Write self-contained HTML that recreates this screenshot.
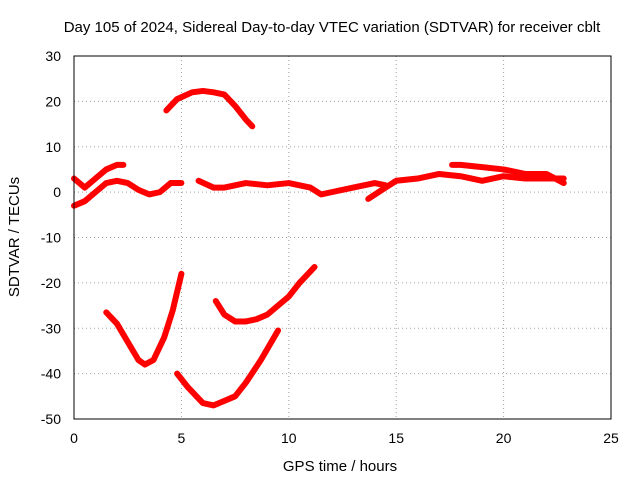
<!DOCTYPE html>
<html><head><meta charset="utf-8"><style>
body{margin:0;background:#fff;}
svg{display:block;font-family:"Liberation Sans",sans-serif;}
</style></head><body>
<svg id="chart" width="640" height="480" viewBox="0 0 640 480">
<text x="332" y="32" font-size="15" text-anchor="middle">Day 105 of 2024, Sidereal Day-to-day VTEC variation (SDTVAR) for receiver cblt</text>
<text x="340" y="471" font-size="15" text-anchor="middle">GPS time / hours</text>
<text transform="translate(19,237) rotate(-90)" font-size="15" text-anchor="middle">SDTVAR / TECUs</text>
<g id="grid"></g><g id="ticks"></g><g id="series"></g>
<rect x="74" y="56" width="537" height="363" fill="none" stroke="#000" stroke-width="1"/>
</svg>
<script>
const xTicks=[0,5,10,15,20,25];
const yTicks=[30,20,10,0,-10,-20,-30,-40,-50];
const s1x=[4.3,4.8,5.5,6,6.5,7,7.5,8,8.3];
const s1y=[18,20.5,22,22.3,22,21.5,19,16,14.5];
const s2x=[1.5,2,2.5,3,3.3,3.7,4.2,4.6,5];
const s2y=[-26.5,-29,-33,-37,-38,-37,-32,-26,-18];
const s3x=[4.8,5.3,6,6.5,7,7.5,8,8.7,9.5];
const s3y=[-40,-43,-46.5,-47,-46,-45,-42,-37,-30.5];
const s4x=[6.6,7,7.5,8,8.5,9,10,10.5,11.2];
const s4y=[-24,-27,-28.5,-28.5,-28,-27,-23,-20,-16.5];
const s5x=[0,0.5,1,1.5,2,2.5,3,3.5,4,4.5,5];
const s5y=[-3,-2,0,2,2.5,2,0.5,-0.5,0,2,2];
const s6x=[0,0.5,1,1.5,2,2.3];
const s6y=[3,1,3,5,6,6];
const s7x=[5.8,6.5,7,8,9,10,10.5,11,11.5,12,13,14,14.5];
const s7y=[2.5,1,1,2,1.5,2,1.5,1,-0.5,0,1,2,1.5];
const s8x=[13.7,14.5,15,16,17,18,19,20,21,22,22.8];
const s8y=[-1.5,1,2.5,3,4,3.5,2.5,3.5,3,3,3];
const s9x=[17.6,18,19,20,21,22,22.8];
const s9y=[6,6,5.5,5,4,4,2];
const seriesX=[s1x,s2x,s3x,s4x,s5x,s6x,s7x,s8x,s9x];
const seriesY=[s1y,s2y,s3y,s4y,s5y,s6y,s7y,s8y,s9y];
const X=v=>74+v*(537/25);
const Y=v=>56+(30-v)*(363/80);
const NS="http://www.w3.org/2000/svg";
const grid=document.getElementById('grid'),ticks=document.getElementById('ticks'),ser=document.getElementById('series');
function mk(t,a,p){const e=document.createElementNS(NS,t);for(const k in a)e.setAttribute(k,a[k]);p.appendChild(e);return e;}
xTicks.forEach(v=>{
 const l=mk('line',{x1:X(v),x2:X(v),y1:56,y2:419,stroke:'#a0a0a0','stroke-dasharray':'1,3'},grid);
 
 
 const t=mk('text',{x:X(v),y:443,'font-size':14,'text-anchor':'middle'},ticks);t.textContent=v;
 
 
});
yTicks.forEach(v=>{
 const l=mk('line',{x1:74,x2:611,y1:Y(v),y2:Y(v),stroke:'#a0a0a0','stroke-dasharray':'1,3'},grid);
 
 
 const t=mk('text',{x:61,y:Y(v)+5,'font-size':14,'text-anchor':'end'},ticks);t.textContent=v;
 
 
});
seriesX.forEach((xs,i)=>{
 const ys=seriesY[i];
 const pts=xs.map((x,j)=>X(x)+','+Y(ys[j])).join(' ');
 const p=mk('polyline',{points:pts,fill:'none',stroke:'#ff0000','stroke-width':6,'stroke-linejoin':'round','stroke-linecap':'round'},ser);
 
 
});
</script>
</body></html>
